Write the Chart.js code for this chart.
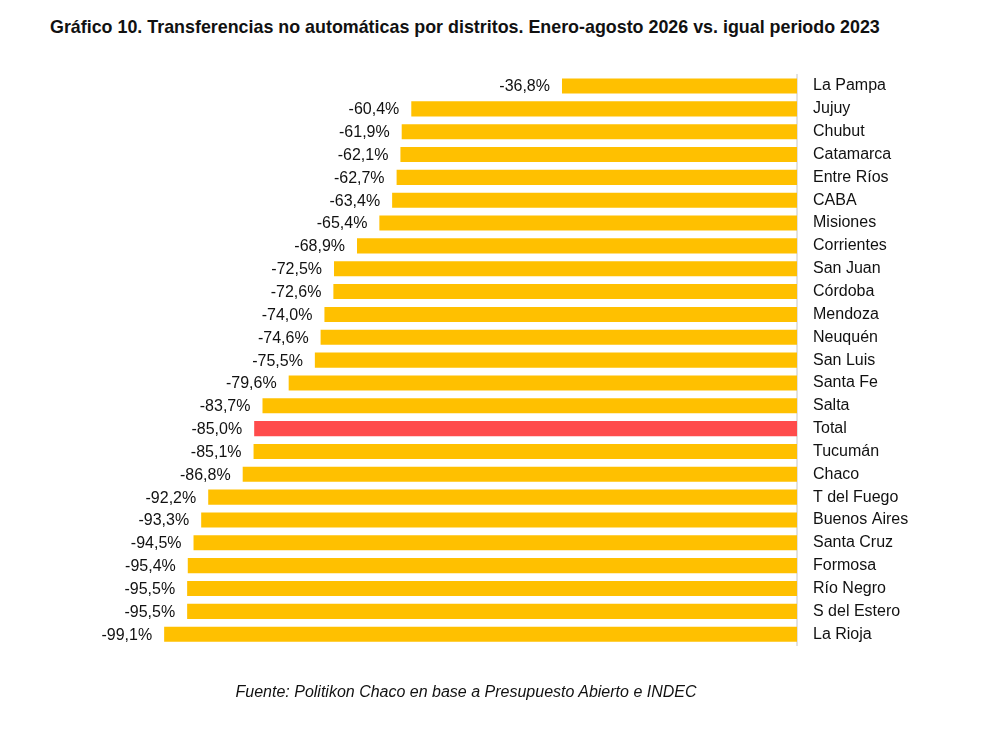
<!DOCTYPE html>
<html>
<head>
<meta charset="utf-8">
<script src="https://cdn.jsdelivr.net/npm/chart.js@4/dist/chart.umd.min.js"></script>
<style>
  html, body { margin: 0; padding: 0; background: #fff; }
  #wrap { position: relative; width: 994px; height: 731px; }
  #titulo {
    position: absolute; left: 50px; top: 16px;
    font-family: "Liberation Sans", sans-serif;
    font-weight: bold; font-size: 19px; color: #111;
    white-space: nowrap;
    transform: scaleX(0.94); transform-origin: left top;
  }
  #fuente {
    position: absolute; left: 0; width: 932px; top: 683px; text-align: center;
    font-family: "Liberation Sans", sans-serif; font-style: italic;
    font-size: 16px; color: #111;
  }
  canvas { position: absolute; left: 0; top: 0; }
</style>
</head>
<body>
<div id="wrap">
  <div id="titulo">Gráfico 10. Transferencias no automáticas por distritos. Enero-agosto 2026 vs. igual periodo 2023</div>
  <canvas id="distritosChart" width="994" height="731"></canvas>
  <div id="fuente">Fuente: Politikon Chaco en base a Presupuesto Abierto e INDEC</div>
</div>
<script>
// Datos del gráfico
const distritos = ['La Pampa', 'Jujuy', 'Chubut', 'Catamarca', 'Entre Ríos', 'CABA', 'Misiones', 'Corrientes',
  'San Juan', 'Córdoba', 'Mendoza', 'Neuquén', 'San Luis', 'Santa Fe', 'Salta', 'Total', 'Tucumán', 'Chaco',
  'T del Fuego', 'Buenos Aires', 'Santa Cruz', 'Formosa', 'Río Negro', 'S del Estero', 'La Rioja'];
const variaciones = [-36.8, -60.4, -61.9, -62.1, -62.7, -63.4, -65.4, -68.9,
  -72.5, -72.6, -74.0, -74.6, -75.5, -79.6, -83.7, -85.0, -85.1, -86.8,
  -92.2, -93.3, -94.5, -95.4, -95.5, -95.5, -99.1];

const colores = distritos.map(d => d === 'Total' ? '#FF4B4B' : '#FFC000');

// Etiquetas de valor a la izquierda de cada barra
const etiquetasValor = {
  id: 'etiquetasValor',
  afterDatasetsDraw(chart) {
    const ctx = chart.ctx;
    const meta = chart.getDatasetMeta(0);
    ctx.save();
    ctx.font = '16px "Liberation Sans", sans-serif';
    ctx.fillStyle = '#111';
    ctx.textAlign = 'right';
    ctx.textBaseline = 'middle';
    meta.data.forEach((bar, i) => {
      const txt = variaciones[i].toFixed(1).replace('.', ',') + '%';
      ctx.fillText(txt, bar.x - 12, bar.y + 1);
    });
    ctx.restore();
  }
};

const ctx = document.getElementById('distritosChart').getContext('2d');
new Chart(ctx, {
  type: 'bar',
  data: {
    labels: distritos,
    datasets: [{
      data: variaciones,
      backgroundColor: colores,
      borderWidth: 0,
      barPercentage: 0.66,
      categoryPercentage: 1
    }]
  },
  options: {
    indexAxis: 'y',
    responsive: false,
    animation: false,
    layout: { padding: { top: 74.6, bottom: 85.4, left: 158.4, right: 0 } },
    plugins: {
      legend: { display: false },
      tooltip: { enabled: false }
    },
    scales: {
      x: {
        display: false,
        min: -100,
        max: 0
      },
      y: {
        position: 'right',
        grid: { display: false, drawTicks: false },
        border: { display: true, color: '#e2e2e2', width: 2 },
        ticks: {
          padding: 16,
          color: '#111',
          font: { family: '"Liberation Sans", sans-serif', size: 16 }
        },
        afterFit: (scale) => { scale.width = 197; }
      }
    }
  },
  plugins: [etiquetasValor]
});
</script>
</body>
</html>
